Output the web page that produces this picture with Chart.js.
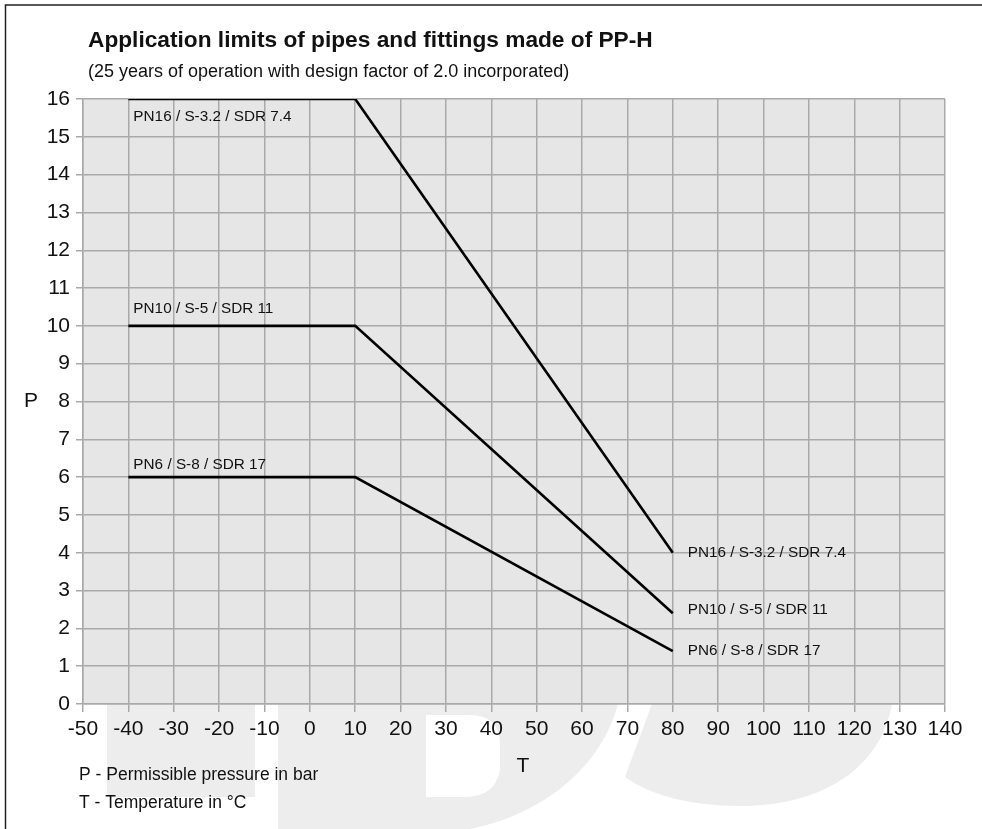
<!DOCTYPE html>
<html>
<head>
<meta charset="utf-8">
<script src="https://cdn.jsdelivr.net/npm/chart.js@4/dist/chart.umd.min.js"></script>
<style>
html,body{margin:0;padding:0;background:#fff;}
#wrap{width:982px;height:829px;position:relative;}
</style>
</head>
<body>
<div id="wrap"><canvas id="c" width="982" height="829"></canvas></div>
<script>
// ---- data ----
const temps = [-40, 10, 80];
const pn16 = [16, 16, 4.0];
const pn10 = [10, 10, 2.4];
const pn6 = [6, 6, 1.4];
const seriesNames = ['PN16 / S-3.2 / SDR 7.4', 'PN10 / S-5 / SDR 11', 'PN6 / S-8 / SDR 17'];
const xRange = [-50, 140];
const xStep = 10;
const yRange = [0, 16];
const yStep = 1;
const titleText = 'Application limits of pipes and fittings made of PP-H';
const subtitleText = '(25 years of operation with design factor of 2.0 incorporated)';
const yAxisTitle = 'P';
const xAxisTitle = 'T';
const notes = ['P - Permissible pressure in bar', 'T - Temperature in °C'];

const FONT = '"Liberation Sans", Arial, sans-serif';
const GRID = '#a9a9a9';

function pts(ys){ return temps.map((t,i)=>({x:t,y:ys[i]})); }

const decor = {
  id:'decor',
  beforeDraw(chart){
    const ctx = chart.ctx, a = chart.chartArea;
    ctx.save();
    ctx.fillStyle = '#fff';
    ctx.fillRect(0,0,chart.width,chart.height);
    // watermark (decorative logo behind the chart)
    ctx.fillStyle = '#ededed';
    ctx.fillRect(107, a.bottom, 148, 93);
    ctx.fillRect(278, a.bottom, 148, chart.height - a.bottom);
    ctx.beginPath();
    ctx.moveTo(426, a.bottom);
    ctx.lineTo(618, a.bottom);
    ctx.bezierCurveTo(600, 770, 540, 815, 470, 829);
    ctx.lineTo(426, 829);
    ctx.closePath();
    ctx.fill();
    ctx.fillStyle = '#fff';
    ctx.beginPath();
    ctx.moveTo(426, 715);
    ctx.lineTo(470, 715);
    ctx.quadraticCurveTo(500, 715, 500, 745);
    ctx.lineTo(500, 770);
    ctx.quadraticCurveTo(495, 797, 465, 797);
    ctx.lineTo(426, 797);
    ctx.closePath();
    ctx.fill();
    ctx.fillStyle = '#ededed';
    ctx.beginPath();
    ctx.moveTo(652, a.bottom);
    ctx.lineTo(892, a.bottom);
    ctx.bezierCurveTo(880, 770, 820, 806, 740, 806);
    ctx.bezierCurveTo(690, 806, 650, 795, 625, 777);
    ctx.closePath();
    ctx.fill();
    // plot background
    ctx.fillStyle = '#e6e6e6';
    ctx.fillRect(a.left, a.top, a.right - a.left, a.bottom - a.top);
    ctx.restore();
  },
  afterDraw(chart){
    const ctx = chart.ctx, a = chart.chartArea;
    const xs = chart.scales.x, ys = chart.scales.y;
    ctx.save();
    ctx.fillStyle = '#111';
    ctx.textBaseline = 'middle';
    ctx.textAlign = 'left';
    ctx.font = 'bold 22.7px ' + FONT;
    ctx.fillText(titleText, 88, 41);
    ctx.font = '18px ' + FONT;
    ctx.fillText(subtitleText, 88, 72);
    // axis titles
    ctx.font = '21px ' + FONT;
    ctx.textAlign = 'center';
    ctx.fillText(yAxisTitle, 31, ys.getPixelForValue(8));
    ctx.fillText(xAxisTitle, 523, 766);
    // notes
    ctx.textAlign = 'left';
    ctx.font = '17.5px ' + FONT;
    ctx.fillText(notes[0], 79, 775);
    ctx.fillText(notes[1], 79, 803);
    // series labels at both ends
    const startDy = [18, -17, -12];
    const endDy = [0, -3, 0];
    ctx.font = '15.3px ' + FONT;
    chart.data.datasets.forEach((ds, i) => {
      const p0 = ds.data[0], p1 = ds.data[ds.data.length-1];
      ctx.fillText(seriesNames[i], xs.getPixelForValue(p0.x) + 5, ys.getPixelForValue(p0.y) + startDy[i]);
      ctx.fillText(seriesNames[i], xs.getPixelForValue(p1.x) + 15, ys.getPixelForValue(p1.y) + endDy[i]);
    });
    // frame
    ctx.strokeStyle = '#222';
    ctx.lineWidth = 1.5;
    ctx.beginPath();
    ctx.moveTo(982, 5);
    ctx.lineTo(5.5, 5);
    ctx.lineTo(5.5, 829);
    ctx.stroke();
    ctx.restore();
  }
};

const tickFont = {family: FONT, size: 21};

new Chart(document.getElementById('c'), {
  type: 'line',
  data: {
    datasets: [
      {label: seriesNames[0], data: pts(pn16)},
      {label: seriesNames[1], data: pts(pn10)},
      {label: seriesNames[2], data: pts(pn6)}
    ]
  },
  options: {
    responsive: false,
    animation: false,
    devicePixelRatio: 1,
    layout: {padding: {left: 0, top: 99, right: 37, bottom: 0}},
    plugins: {legend: {display: false}, tooltip: {enabled: false}, title: {display: false}},
    elements: {
      point: {radius: 0},
      line: {borderWidth: 2.6, borderColor: '#000', tension: 0, fill: false}
    },
    scales: {
      x: {
        type: 'linear', min: xRange[0], max: xRange[1],
        ticks: {stepSize: xStep, autoSkip: false, maxRotation: 0, font: tickFont, color: '#111', padding: 5},
        grid: {color: GRID, lineWidth: 1.5, tickLength: 8, tickColor: GRID},
        border: {color: GRID, width: 1.5},
        afterFit(s){ s.height = 125; }
      },
      y: {
        type: 'linear', min: yRange[0], max: yRange[1],
        ticks: {stepSize: yStep, font: tickFont, color: '#111', padding: 6},
        grid: {color: GRID, lineWidth: 1.5, tickLength: 7, tickColor: GRID},
        border: {color: GRID, width: 1.5},
        afterFit(s){ s.width = 83; }
      }
    }
  },
  plugins: [decor]
});
</script>
</body>
</html>
